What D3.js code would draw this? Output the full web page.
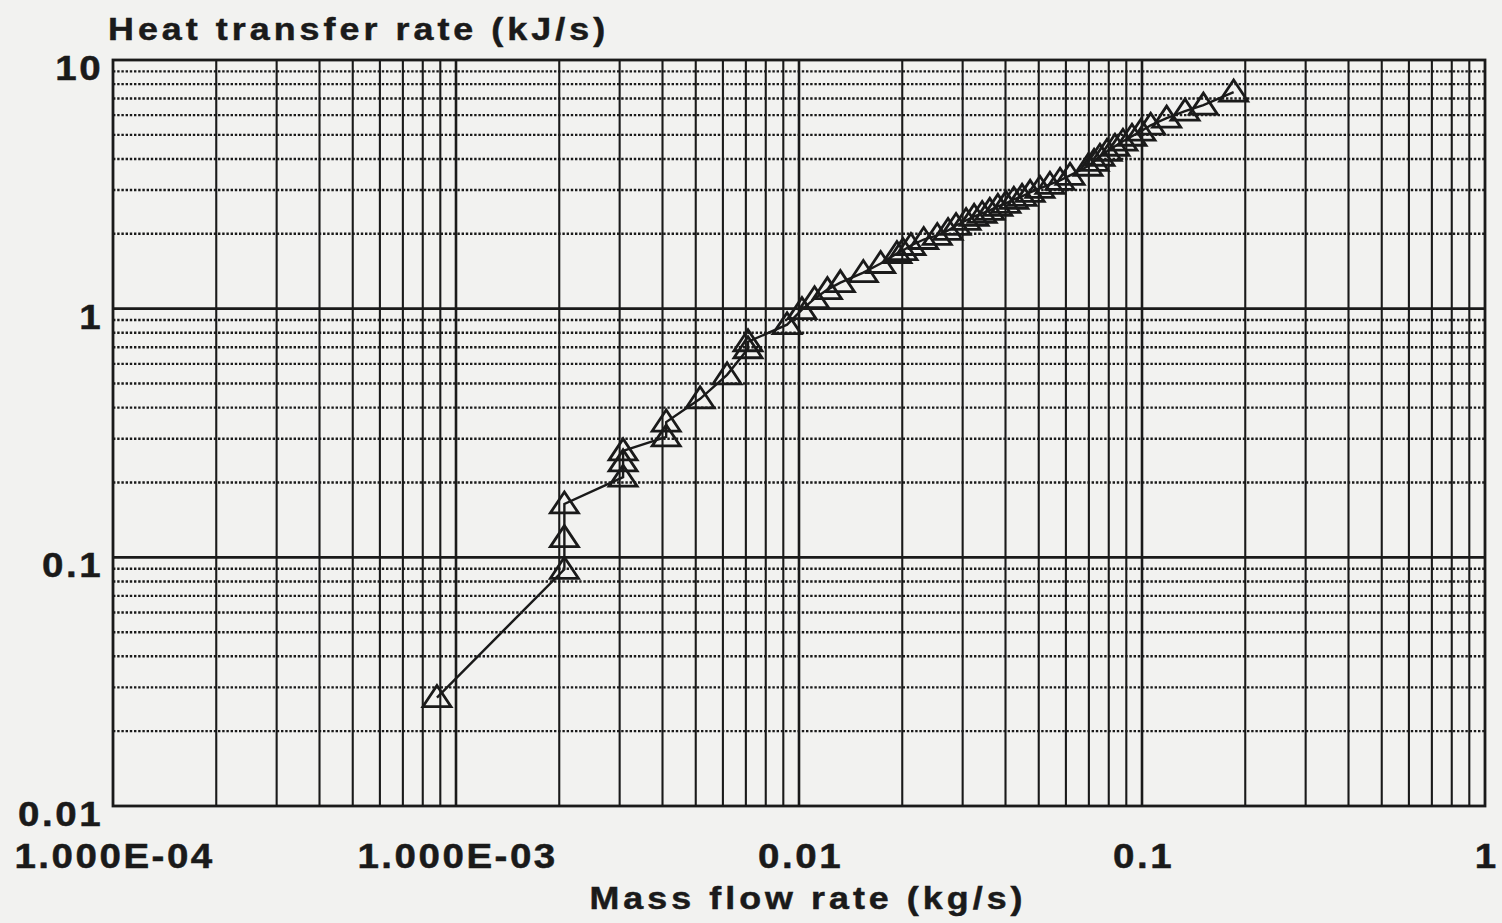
<!DOCTYPE html>
<html>
<head>
<meta charset="utf-8">
<script src="https://cdn.jsdelivr.net/npm/d3@7"></script>
<style>
  body { margin: 0; background: #f2f2f0; }
  svg { display: block; }
  text { font-family: "Liberation Sans", Arial, sans-serif; font-weight: bold; fill: #1a1a1a; }
</style>
</head>
<body>
<svg id="chart" width="1502" height="923"></svg>
<script>
// mass flow rate (kg/s)
var massFlow = [
  0.00088, 0.00207, 0.00207, 0.00207, 0.00307, 0.00307, 0.00307, 0.0041, 0.0041,
  0.00515, 0.00617, 0.0071, 0.0071, 0.00923, 0.0102, 0.0111, 0.0121, 0.0132,
  0.0154, 0.0173, 0.0193, 0.0201, 0.0212, 0.0231, 0.0253, 0.0272, 0.0287,
  0.0307, 0.0324, 0.0342, 0.036, 0.038, 0.0401, 0.0423, 0.0447, 0.0472,
  0.0504, 0.0539, 0.0577, 0.0617, 0.0696, 0.0725, 0.0754, 0.0791, 0.0834,
  0.088, 0.0935, 0.0993, 0.106, 0.118, 0.1335, 0.151, 0.185
];
// heat transfer rate (kJ/s)
var heatRate = [
  0.0273, 0.0895, 0.120, 0.164, 0.210, 0.242, 0.268, 0.305, 0.350,
  0.434, 0.542, 0.690, 0.736, 0.862, 0.991, 1.097, 1.193, 1.273,
  1.397, 1.519, 1.667, 1.713, 1.795, 1.897, 1.970, 2.063, 2.161,
  2.263, 2.350, 2.416, 2.485, 2.578, 2.651, 2.752, 2.829, 2.936,
  3.047, 3.162, 3.282, 3.438, 3.738, 3.914, 4.101, 4.296, 4.500,
  4.714, 4.937, 5.172, 5.468, 5.837, 6.230, 6.585, 7.430
];
var xTickValues = [1e-4, 1e-3, 0.01, 0.1, 1];
var xTickLabels = ["1.000E-04", "1.000E-03", "0.01", "0.1", "1"];
var yTickValues = [0.01, 0.1, 1, 10];
var yTickLabels = ["0.01", "0.1", "1", "10"];

var svg = d3.select("#chart"),
    margin = {top: 60, right: 17, bottom: 117, left: 113},
    width = +svg.attr("width") - margin.left - margin.right,
    height = +svg.attr("height") - margin.top - margin.bottom,
    g = svg.append("g").attr("transform", "translate(" + margin.left + "," + margin.top + ")");

var x = d3.scaleLog().domain([1e-4, 1]).range([0, width]);
var y = d3.scaleLog().domain([0.01, 10]).range([height, 0]);

var ink = "#1a1a1a";

// minor / major grid values from the log scales
var xGrid = x.ticks(), yGrid = y.ticks();
function isDecade(v) { return Math.abs(Math.log10(v) - Math.round(Math.log10(v))) < 1e-6; }

// vertical grid lines: all solid
g.append("g").selectAll("line")
  .data(xGrid.filter(function(d) { return d > 1e-4 && d < 1; }))
  .enter().append("line")
  .attr("x1", function(d) { return x(d); })
  .attr("x2", function(d) { return x(d); })
  .attr("y1", 0).attr("y2", height)
  .style("stroke", ink)
  .style("stroke-width", function(d) { return isDecade(d) ? 2.6 : 2.1; });

// horizontal grid lines: dotted minors, solid decades
g.append("g").selectAll("line")
  .data(yGrid.filter(function(d) { return d > 0.01 && d < 10; }))
  .enter().append("line")
  .attr("x1", 0).attr("x2", width)
  .attr("y1", function(d) { return y(d); })
  .attr("y2", function(d) { return y(d); })
  .style("stroke", ink)
  .style("stroke-width", function(d) { return isDecade(d) ? 2.6 : 2.4; })
  .style("stroke-dasharray", function(d) { return isDecade(d) ? null : "2.4,1.8"; });

// frame
g.append("rect")
  .attr("width", width).attr("height", height)
  .style("fill", "none").style("stroke", ink).style("stroke-width", 2.8);

// axes labels (no tick marks)
var xAxis = d3.axisBottom(x).tickValues(xTickValues).tickSize(0)
  .tickFormat(function(d, i) { return xTickLabels[i]; });
var gx = g.append("g").attr("transform", "translate(0," + height + ")").call(xAxis);
gx.select(".domain").remove();
gx.selectAll("text").attr("dy", 0).attr("y", 62).attr("dx", 1)
  .attr("transform", "scale(1.1,1)")
  .style("font-size", "35px").style("letter-spacing", "2.3px")
  .style("stroke", "#1a1a1a").style("stroke-width", 0.5)
  .style("font-family", "'Liberation Sans', Arial, sans-serif").style("fill", "#1a1a1a");

var yAxis = d3.axisLeft(y).tickValues(yTickValues).tickSize(0)
  .tickFormat(function(d, i) { return yTickLabels[i]; });
var gy = g.append("g").call(yAxis);
gy.select(".domain").remove();
gy.selectAll("text").attr("x", -9).attr("dy", "0.56em")
  .attr("transform", "scale(1.1,1)")
  .style("font-size", "35px").style("letter-spacing", "2.3px")
  .style("stroke", "#1a1a1a").style("stroke-width", 0.5)
  .style("font-family", "'Liberation Sans', Arial, sans-serif").style("fill", "#1a1a1a");

// data line
var line = d3.line()
  .x(function(d, i) { return x(massFlow[i]); })
  .y(function(d, i) { return y(heatRate[i]); });

g.append("path")
  .datum(massFlow)
  .attr("d", line)
  .style("fill", "none")
  .style("stroke", ink)
  .style("stroke-width", 2.4);

// open triangle markers
g.append("g").selectAll("path")
  .data(massFlow)
  .enter().append("path")
  .attr("transform", function(d, i) { return "translate(" + x(d) + "," + y(heatRate[i]) + ")"; })
  .attr("d", "M0,-12L-14,9L14,9Z")
  .style("fill", "none")
  .style("stroke", ink)
  .style("stroke-width", 2.8)
  .style("stroke-linejoin", "miter");

// titles (slightly widened glyphs like the printout)
svg.append("text")
  .attr("transform", "translate(108,40) scale(1.12,1)")
  .style("font-size", "32px").style("letter-spacing", "3.6px")
  .style("stroke", "#1a1a1a").style("stroke-width", 0.5)
  .text("Heat transfer rate (kJ/s)");

svg.append("text")
  .attr("transform", "translate(808,909) scale(1.12,1)")
  .attr("text-anchor", "middle")
  .style("font-size", "32px").style("letter-spacing", "3.6px")
  .style("stroke", "#1a1a1a").style("stroke-width", 0.5)
  .text("Mass flow rate (kg/s)");
</script>
</body>
</html>
